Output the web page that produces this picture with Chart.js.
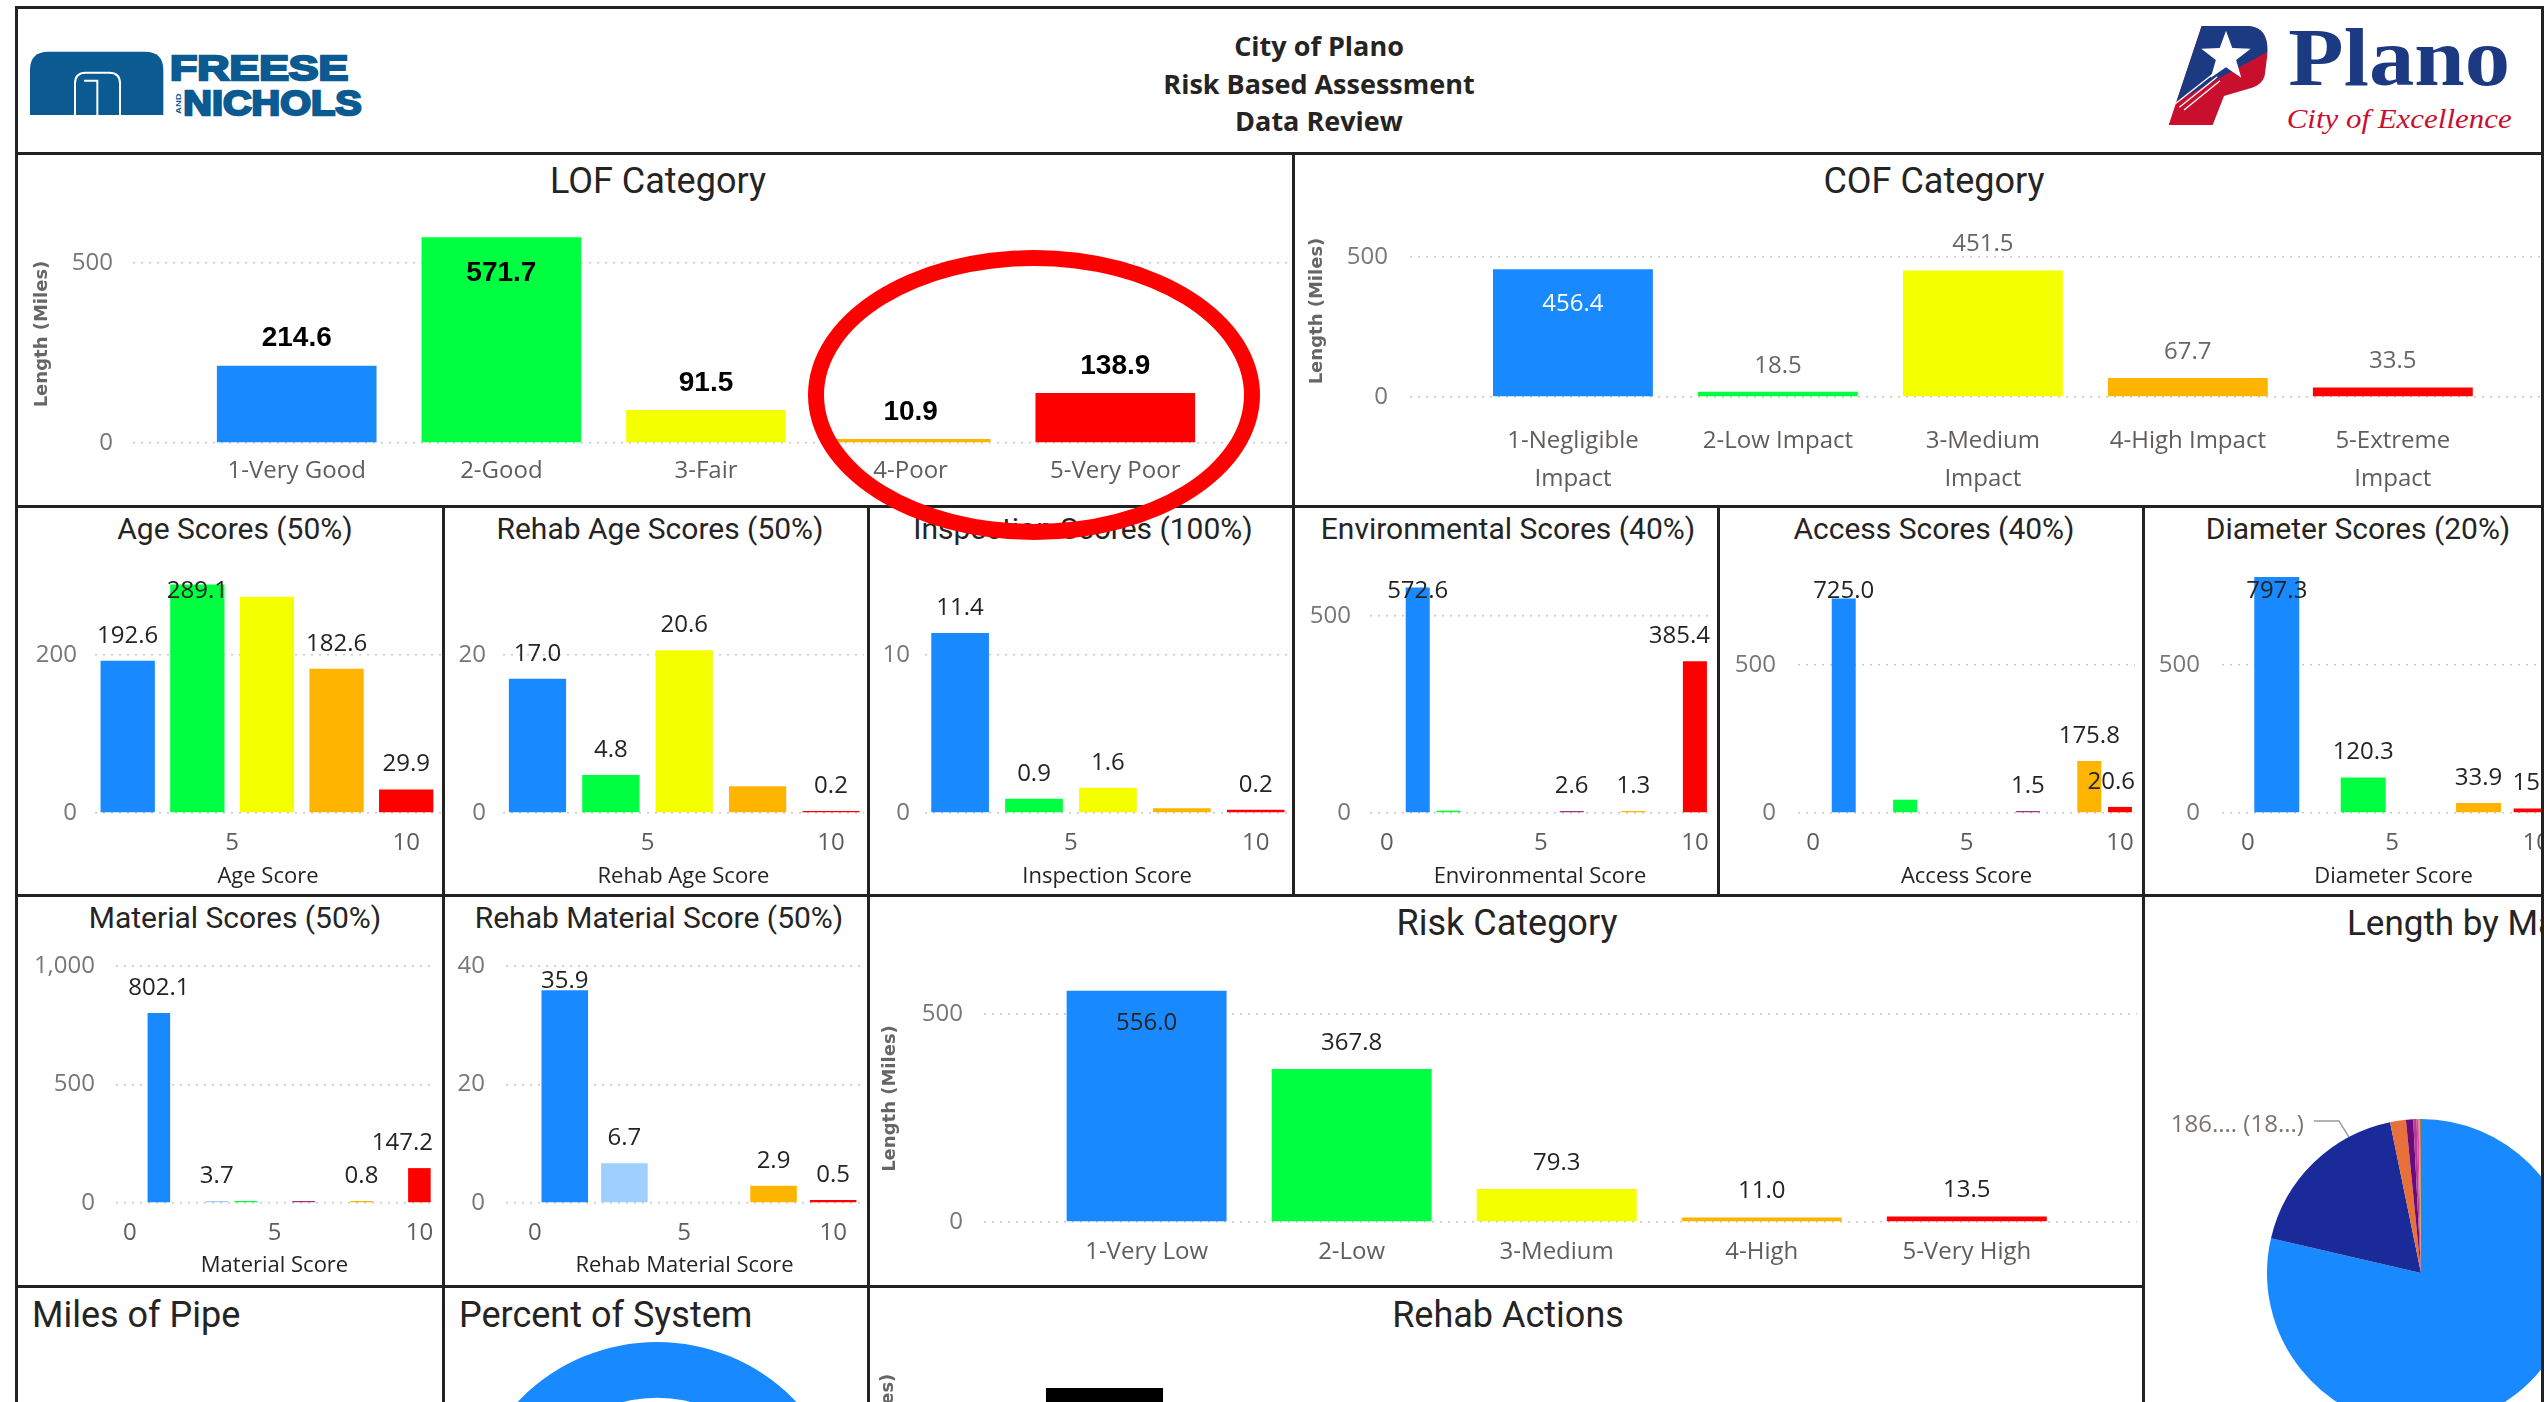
<!DOCTYPE html>
<html>
<head>
<meta charset="utf-8">
<title>City of Plano - Risk Based Assessment</title>
<script src="https://cdn.jsdelivr.net/npm/chart.js@4.4.1/dist/chart.umd.min.js"></script>
<style>
  html, body { margin: 0; padding: 0; }
  body { width: 2544px; height: 1402px; overflow: hidden; position: relative; background: #fff; font-family: 'Open Sans', sans-serif; }
  .panel { position: absolute; border: 3px solid #222; box-sizing: border-box; }
  .ttl { position: absolute; font-family: Roboto, sans-serif; color: #252423; white-space: nowrap; line-height: 1; }
  .c { transform: translate(-50%, -50%); }
  .l { transform: translateY(-50%); }
  .hdr { position: absolute; left: 1319px; transform: translate(-50%, -50%); font: bold 27px 'Open Sans', sans-serif; color: #252423; white-space: nowrap; }
  canvas, svg { position: absolute; }
  #ring { position: absolute; left: 808px; top: 250px; width: 452px; height: 290px; border: 16px solid #ff0000; border-radius: 50%; box-sizing: border-box; z-index: 5; }
  #edge { position: absolute; left: 2541px; top: 7px; width: 3px; height: 1402px; background: #222; z-index: 6; }
</style>
</head>
<body>

<svg style="left:20px;top:30px" width="360" height="110" viewBox="0 0 1080 330">
  <path d="M30,255 V120 Q30,65 85,65 H375 Q430,65 430,120 V255 Z" fill="#0B5A91"/>
  <path d="M165,255 V160 Q165,128 197,128 H268 Q300,128 300,160 V255 M232,255 V152 H192" fill="none" stroke="#fff" stroke-width="6"/>
  <text x="450" y="150" textLength="535" lengthAdjust="spacingAndGlyphs" font-family="Liberation Sans" font-weight="bold" font-size="104" fill="#0B5A91" stroke="#0B5A91" stroke-width="7">FREESE</text>
  <text x="490" y="255" textLength="535" lengthAdjust="spacingAndGlyphs" font-family="Liberation Sans" font-weight="bold" font-size="104" fill="#0B5A91" stroke="#0B5A91" stroke-width="7">NICHOLS</text>
  <text transform="translate(482,252) rotate(-90)" textLength="62" lengthAdjust="spacingAndGlyphs" font-family="Liberation Sans" font-weight="bold" font-size="24" fill="#0B5A91">AND</text>
</svg>

<svg style="left:2140px;top:10px" width="404" height="140" viewBox="0 0 1212 420">
  <defs><clipPath id="pc"><path d="M185,48 L325,48 Q388,52 382,135 L374,198 Q366,224 336,233 L252,258 L218,345 L86,345 Z"/></clipPath></defs>
  <g clip-path="url(#pc)">
    <rect x="0" y="0" width="420" height="420" fill="#C8102E"/>
    <polygon points="0,0 420,0 420,105 0,335" fill="#1C3A82"/>
    <path d="M105,282 L222,190 M118,292 L232,200 M132,300 L240,212" stroke="#fff" stroke-width="4"/>
    <polygon points="258,62 276.8,114.1 332.2,115.9 288.4,149.9 303.8,203.1 258,172 212.2,203.1 227.6,149.9 183.8,115.9 239.2,114.1" fill="#fff"/>
  </g>
  <text x="445" y="225" textLength="665" lengthAdjust="spacingAndGlyphs" font-family="Liberation Serif" font-weight="bold" font-size="250" fill="#1C3A82">Plano</text>
  <text x="440" y="355" textLength="675" lengthAdjust="spacingAndGlyphs" font-family="Liberation Serif" font-style="italic" font-size="82" fill="#C8102E">City of Excellence</text>
</svg>

<div class="hdr" style="top:45px">City of Plano</div>
<div class="hdr" style="top:83px">Risk Based Assessment</div>
<div class="hdr" style="top:120px">Data Review</div>

<div id="ring"></div>
<div id="edge"></div>

<script>
// miles of pipe per category
const lofCategories = ['1-Very Good', '2-Good', '3-Fair', '4-Poor', '5-Very Poor'];
const lofMiles = [214.6, 571.7, 91.5, 10.9, 138.9];
const cofCategories = [['1-Negligible', 'Impact'], '2-Low Impact', ['3-Medium', 'Impact'], '4-High Impact', ['5-Extreme', 'Impact']];
const cofMiles = [456.4, 18.5, 451.5, 67.7, 33.5];
const riskCategories = ['1-Very Low', '2-Low', '3-Medium', '4-High', '5-Very High'];
const riskMiles = [556.0, 367.8, 79.3, 11.0, 13.5];

// score histograms (score -> miles)
const ageScores = [2, 4, 6, 8, 10];
const ageMiles = [192.6, 289.1, 273.7, 182.6, 29.9];
const rehabAgeScores = [2, 4, 6, 8, 10];
const rehabAgeMiles = [17.0, 4.8, 20.6, 3.4, 0.2];
const inspectionScores = [2, 4, 6, 8, 10];
const inspectionMiles = [11.4, 0.9, 1.6, 0.3, 0.2];
const envScores = [1, 2, 6, 8, 10];
const envMiles = [572.6, 6.0, 2.6, 1.3, 385.4];
const accessScores = [1, 3, 7, 9, 10];
const accessMiles = [725.0, 45.0, 1.5, 175.8, 20.6];
const diameterScores = [1, 4, 8, 10];
const diameterMiles = [797.3, 120.3, 33.9, 15.4];
const materialScores = [1, 3, 4, 6, 8, 10];
const materialMiles = [802.1, 3.7, 8.5, 5.6, 0.8, 147.2];
const rehabMaterialScores = [1, 3, 8, 10];
const rehabMaterialMiles = [35.9, 6.7, 2.9, 0.5];

// bottom row
const materialPieMiles = [808.0, 186.5, 17.0, 7.8, 3.6, 2.2, 1.5, 1.0];
const systemPercent = [100];
const rehabActionMiles = [160];

const B = '#1989FF', G = '#00FF40', Y = '#F4FF00', O = '#FFB400', R = '#FF0000', P = '#A4317E', LB = '#9ECFFF';
const valueFont = "24px 'Open Sans', sans-serif";

Chart.defaults.animation = false;
Chart.defaults.responsive = false;
Chart.defaults.font.family = "'Open Sans', sans-serif";
Chart.defaults.plugins.legend.display = false;
Chart.defaults.plugins.tooltip.enabled = false;

// panel frames
const panels = [
  [16, 7, 2570, 153],
  [16, 153, 1293, 506], [1293, 153, 2570, 506],
  [16, 506, 443, 895], [443, 506, 868, 895], [868, 506, 1293, 895], [1293, 506, 1718, 895], [1718, 506, 2143, 895], [2143, 506, 2570, 895],
  [16, 895, 443, 1286], [443, 895, 868, 1286], [868, 895, 2143, 1286], [2143, 895, 2570, 1500],
  [16, 1286, 443, 1500], [443, 1286, 868, 1500], [868, 1286, 2143, 1500]
];
panels.forEach(([x1, y1, x2, y2]) => {
  const d = document.createElement('div');
  d.className = 'panel';
  d.style.left = (x1 - 1) + 'px';
  d.style.top = (y1 - 1) + 'px';
  d.style.width = (x2 - x1 + 3) + 'px';
  d.style.height = (y2 - y1 + 3) + 'px';
  document.body.appendChild(d);
});

const titles = [
  ['LOF Category', 658, 181, 36, 'c'], ['COF Category', 1934, 181, 36, 'c'],
  ['Age Scores (50%)', 235, 529, 30, 'c'], ['Rehab Age Scores (50%)', 660, 529, 30, 'c'],
  ['Inspection Scores (100%)', 1083, 529, 30, 'c'], ['Environmental Scores (40%)', 1508, 529, 30, 'c'],
  ['Access Scores (40%)', 1934, 529, 30, 'c'], ['Diameter Scores (20%)', 2358, 529, 30, 'c'],
  ['Material Scores (50%)', 235, 918, 30, 'c'], ['Rehab Material Score (50%)', 659, 918, 30, 'c'],
  ['Risk Category', 1507, 923, 36, 'c'], ['Length by Material', 2347, 923, 35, 'l'],
  ['Miles of Pipe', 32, 1315, 36, 'l'], ['Percent of System', 459, 1315, 36, 'l'], ['Rehab Actions', 1508, 1315, 36, 'c']
];
titles.forEach(([t, x, y, s, a]) => {
  const d = document.createElement('div');
  d.className = 'ttl ' + a;
  d.textContent = t;
  d.style.left = x + 'px';
  d.style.top = y + 'px';
  d.style.fontSize = s + 'px';
  document.body.appendChild(d);
});

function addCanvas(x, y, w, h) {
  const c = document.createElement('canvas');
  c.width = w; c.height = h;
  c.style.left = x + 'px'; c.style.top = y + 'px';
  c.style.width = w + 'px'; c.style.height = h + 'px';
  document.body.appendChild(c);
  return c;
}

// bar chart on a linear x axis, box = canvas [x, y, w, h], area = plot [l, t, r, b] in page px
function barChart(o) {
  const [bx, by, bw, bh] = o.box;
  const [al, at, ar, ab] = o.area;
  const yAxisW = al - bx;
  const xAxisH = by + bh - ab;
  const lb = o.labels;
  const valueLabels = {
    id: 'valueLabels',
    afterDatasetsDraw(chart) {
      if (!lb) return;
      const { ctx, chartArea } = chart;
      const bars = chart.getDatasetMeta(0).data;
      const pts = chart.data.datasets[0].data;
      ctx.save();
      ctx.font = lb.font || valueFont;
      ctx.textAlign = 'center';
      ctx.textBaseline = 'middle';
      bars.forEach((bar, i) => {
        if ((lb.hide || []).includes(i)) return;
        const txt = pts[i].y.toFixed(1);
        const half = ctx.measureText(txt).width / 2;
        let y = bar.y - (lb.offset || 26);
        let color = lb.color || '#252423';
        if ((lb.inside || []).includes(i)) {
          y = bar.y + lb.insideOffset;
          color = lb.insideColor || color;
        } else {
          y = Math.max(y, chartArea.top + 15);
        }
        const x = Math.max(Math.min(bar.x, chartArea.right - half), chartArea.left + half);
        ctx.fillStyle = color;
        ctx.fillText(txt, x, y);
      });
      ctx.restore();
    }
  };
  return new Chart(addCanvas(bx, by, bw, bh), {
    type: 'bar',
    data: {
      datasets: [{
        data: o.x.map((v, i) => ({ x: v, y: o.y[i] })),
        backgroundColor: o.colors,
        barPercentage: 0.78,
        categoryPercentage: 1,
        minBarLength: 2
      }]
    },
    options: {
      layout: { padding: { left: 0, top: at - by, right: bx + bw - ar, bottom: 0 } },
      scales: {
        x: {
          type: 'linear', min: o.xRange[0], max: o.xRange[1], offset: false,
          grid: { display: false }, border: { display: false },
          afterBuildTicks: s => { s.ticks = o.xTicks.map(v => ({ value: v })); },
          afterFit: s => { s.height = xAxisH; s.paddingLeft = 0; s.paddingRight = 0; },
          ticks: {
            autoSkip: false, maxRotation: 0, minRotation: 0, padding: o.xPad,
            color: '#605E5C', font: { size: 24, lineHeight: o.xLine || 1.2 },
            callback: o.xText || (v => String(v))
          },
          title: { display: !!o.xTitle, text: o.xTitle, color: '#252423', font: { size: 22 }, padding: { top: 0, bottom: o.xTitlePad || 0 } }
        },
        y: {
          min: 0, max: o.yMax,
          grid: { color: '#c8c8c8', lineWidth: 1.5, drawTicks: false },
          border: { display: false, dash: [2, 6] },
          afterBuildTicks: s => { s.ticks = o.yTicks.map(v => ({ value: v })); },
          afterFit: s => { s.width = yAxisW; s.paddingTop = 0; s.paddingBottom = 0; },
          ticks: { padding: o.yPad, color: '#777', font: { size: 24 }, callback: v => v.toLocaleString('en-US') },
          title: {
            display: !!o.yTitle, text: o.yTitle, color: '#666',
            font: { family: "'DejaVu Sans', sans-serif", weight: 'bold', size: 18 },
            padding: { top: o.yTitlePad || 0, bottom: 0 }
          }
        }
      }
    },
    plugins: [valueLabels]
  });
}

const catTicks = [1, 2, 3, 4, 5];

barChart({
  box: [18, 200, 1273, 305], area: [133, 225, 1288, 443],
  x: catTicks, y: lofMiles, colors: [B, G, Y, O, R],
  xRange: [0.2, 5.844], xTicks: catTicks, xText: v => lofCategories[v - 1], xPad: 6,
  yMax: 605.6, yTicks: [0, 500], yPad: 20, yTitle: 'Length (Miles)', yTitlePad: 14,
  labels: { font: "bold 28px 'Liberation Sans', Arial, sans-serif", color: '#000', offset: 27, inside: [1], insideOffset: 36 }
});

barChart({
  box: [1295, 200, 1273, 305], area: [1410, 225, 2565, 397],
  x: catTicks, y: cofMiles, colors: [B, G, Y, O, R],
  xRange: [0.205, 5.84], xTicks: catTicks, xText: v => cofCategories[v - 1], xPad: 18, xLine: 1.55,
  yMax: 614, yTicks: [0, 500], yPad: 22, yTitle: 'Length (Miles)', yTitlePad: 12,
  labels: { color: '#666', offset: 26, inside: [0], insideOffset: 35, insideColor: '#fff' }
});

const scoreLabels = (hide) => ({ color: '#252423', offset: 25, hide });

barChart({
  box: [18, 550, 423, 344], area: [95, 576, 441, 813],
  x: ageScores, y: ageMiles, colors: [B, G, Y, O, R],
  xRange: [1.06, 11.0], xTicks: [5, 10], xPad: 8, xTitle: 'Age Score', xTitlePad: 4,
  yMax: 300, yTicks: [0, 200], yPad: 18, labels: scoreLabels([2])
});
barChart({
  box: [445, 550, 421, 344], area: [503, 576, 864, 813],
  x: rehabAgeScores, y: rehabAgeMiles, colors: [B, G, Y, O, R],
  xRange: [1.06, 10.9], xTicks: [5, 10], xPad: 8, xTitle: 'Rehab Age Score', xTitlePad: 4,
  yMax: 30, yTicks: [0, 20], yPad: 17, labels: scoreLabels([3])
});
barChart({
  box: [870, 550, 421, 344], area: [925, 576, 1289, 813],
  x: inspectionScores, y: inspectionMiles, colors: [B, G, Y, O, R],
  xRange: [1.05, 10.9], xTicks: [5, 10], xPad: 8, xTitle: 'Inspection Score', xTitlePad: 4,
  yMax: 15, yTicks: [0, 10], yPad: 15, labels: scoreLabels([3])
});
barChart({
  box: [1295, 550, 421, 344], area: [1370, 576, 1710, 813],
  x: envScores, y: envMiles, colors: [B, G, P, O, R],
  xRange: [-0.55, 10.49], xTicks: [0, 5, 10], xPad: 8, xTitle: 'Environmental Score', xTitlePad: 4,
  yMax: 601.5, yTicks: [0, 500], yPad: 19, labels: scoreLabels([1])
});
barChart({
  box: [1720, 550, 421, 344], area: [1798, 576, 2135, 813],
  x: accessScores, y: accessMiles, colors: [B, G, P, O, R],
  xRange: [-0.49, 10.49], xTicks: [0, 5, 10], xPad: 8, xTitle: 'Access Score', xTitlePad: 4,
  yMax: 800.7, yTicks: [0, 500], yPad: 22, labels: scoreLabels([1])
});
barChart({
  box: [2145, 550, 423, 344], area: [2222, 576, 2565, 813],
  x: diameterScores, y: diameterMiles, colors: [B, G, O, R],
  xRange: [-0.9, 11.0], xTicks: [0, 5, 10], xPad: 8, xTitle: 'Diameter Score', xTitlePad: 4,
  yMax: 800.7, yTicks: [0, 500], yPad: 22, labels: scoreLabels([])
});
barChart({
  box: [18, 940, 423, 345], area: [116, 966, 433, 1203],
  x: materialScores, y: materialMiles, colors: [B, LB, G, P, O, R],
  xRange: [-0.48, 10.47], xTicks: [0, 5, 10], xPad: 8, xTitle: 'Material Score', xTitlePad: 6,
  yMax: 1000, yTicks: [0, 500, 1000], yPad: 21, labels: scoreLabels([2, 3])
});
barChart({
  box: [445, 940, 421, 345], area: [506, 966, 863, 1203],
  x: rehabMaterialScores, y: rehabMaterialMiles, colors: [B, LB, O, R],
  xRange: [-0.97, 11.0], xTicks: [0, 5, 10], xPad: 8, xTitle: 'Rehab Material Score', xTitlePad: 6,
  yMax: 40, yTicks: [0, 20, 40], yPad: 21, labels: scoreLabels([])
});

barChart({
  box: [870, 960, 1271, 325], area: [984, 975, 2137, 1222],
  x: catTicks, y: riskMiles, colors: [B, G, Y, O, R],
  xRange: [0.207, 5.83], xTicks: catTicks, xText: v => riskCategories[v - 1], xPad: 8,
  yMax: 593.7, yTicks: [0, 500], yPad: 21, yTitle: 'Length (Miles)', yTitlePad: 10,
  labels: { color: '#252423', offset: 26, inside: [0], insideOffset: 32 }
});

barChart({
  box: [870, 1340, 1271, 300], area: [984, 1380, 2137, 1514],
  x: [1], y: rehabActionMiles, colors: ['#000'],
  xRange: [0.197, 7.88], xTicks: [1, 2, 3, 4, 5, 6, 7], xText: () => '', xPad: 8,
  yMax: 170, yTicks: [0, 100], yPad: 21, yTitle: 'Length (Miles)', yTitlePad: 8
});

// pie with outside label on the second slice
const pieLabel = {
  id: 'pieLabel',
  afterDatasetsDraw(chart) {
    const arc = chart.getDatasetMeta(0).data[1];
    const v = materialPieMiles[1];
    const total = materialPieMiles.reduce((a, b) => a + b, 0);
    const a = arc.startAngle + 0.75 * (arc.endAngle - arc.startAngle);
    const px = arc.x + arc.outerRadius * Math.cos(a);
    const py = arc.y + arc.outerRadius * Math.sin(a);
    const ex = px - 10, ey = py - 16;
    const ctx = chart.ctx;
    ctx.save();
    ctx.strokeStyle = '#9a9a9a';
    ctx.lineWidth = 1.5;
    ctx.beginPath();
    ctx.moveTo(px, py); ctx.lineTo(ex, ey); ctx.lineTo(ex - 25, ey);
    ctx.stroke();
    ctx.font = valueFont;
    ctx.fillStyle = '#7d756d';
    ctx.textAlign = 'right';
    ctx.textBaseline = 'middle';
    ctx.fillText(v.toFixed(1).slice(0, 4) + '... (' + (v / total * 100).toFixed(1).slice(0, 2) + '...)', ex - 35, ey + 4);
    ctx.restore();
  }
};
new Chart(addCanvas(2150, 1090, 450, 370), {
  type: 'pie',
  data: {
    datasets: [{
      data: materialPieMiles,
      backgroundColor: [B, '#1B2A99', '#E8703A', '#6B0A7A', '#B33D9B', '#E044A7', '#D9B300', '#A66B3A'],
      borderWidth: 0
    }]
  },
  options: { layout: { padding: { left: 117, top: 29, right: 25, bottom: 33 } } },
  plugins: [pieLabel]
});

new Chart(addCanvas(465, 1342, 384, 384), {
  type: 'doughnut',
  data: { datasets: [{ data: systemPercent, backgroundColor: [B], borderWidth: 0 }] },
  options: { cutout: '71%' }
});
</script>
</body>
</html>
